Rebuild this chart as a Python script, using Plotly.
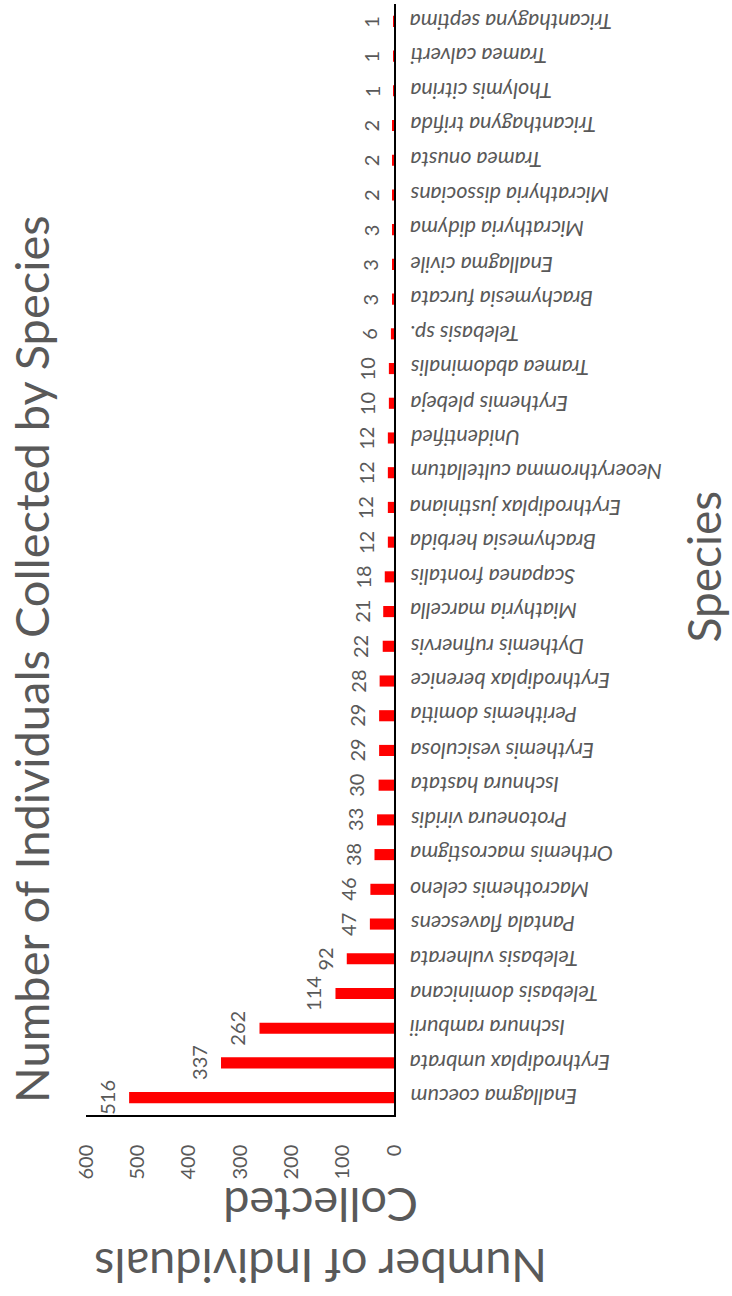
import plotly.graph_objects as go

# Species counts, listed from the most to the least collected
species = [
    "Enallagma coecum", "Erythrodiplax umbrata", "Ischnura ramburii",
    "Telebasis dominicana", "Telebasis vulnerata", "Pantala flavescens",
    "Macrothemis celeno", "Orthemis macrostigma", "Protoneura viridis",
    "Ischnura hastata", "Erythemis vesiculosa", "Perithemis domitia",
    "Erythrodiplax berenice", "Dythemis rufinervis", "Miathyria marcella",
    "Scapanea frontalis", "Brachymesia herbida", "Erythrodiplax justiniana",
    "Neoerythromma cultellatum", "Unidentified", "Erythemis plebeja",
    "Tramea abdominalis", "Telebasis sp.", "Brachymesia furcata",
    "Enallagma civile", "Micrathyria didyma", "Micrathyria dissocians",
    "Tramea onusta", "Tricanthagyna trifida", "Tholymis citrina",
    "Tramea calverti", "Tricanthagyna septima",
]
counts = [
    516, 337, 262, 114, 92, 47, 46, 38, 33, 30, 29, 29, 28, 22, 21, 18,
    12, 12, 12, 12, 10, 10, 6, 3, 3, 3, 2, 2, 2, 1, 1, 1,
]
count_ticks = [0, 100, 200, 300, 400, 500, 600]

chart_title = "Number of Individuals Collected by Species"
value_title = "Number of Individuals<br>Collected"
category_title = "Species"

W, H = 732, 1296
# plot-area edges in pixels
PL, PR, PT, PB = 86, 394, 4, 1115

GREY = "#595959"
FONT = "Lato"


def px_x(px):
    return (px - PL) / (PR - PL)


def px_y(py):
    return (PB - py) / (PB - PT)


fig = go.Figure(
    go.Bar(
        x=counts,
        y=species,
        orientation="h",
        marker=dict(color="#FF0000", line=dict(width=0)),
        width=0.32,
        hoverinfo="x+y",
    )
)

annotations = []

# value labels at the end of each bar, reading upward
for name, val in zip(species, counts):
    annotations.append(dict(
        x=val, y=name, xref="x", yref="y",
        text=str(val), showarrow=False, textangle=-90,
        xanchor="center", yanchor="middle", xshift=-22,
        font=dict(family=FONT, size=20, color=GREY),
    ))

# species names, turned upside down beside the baseline
for name in species:
    annotations.append(dict(
        x=0, y=name, xref="x", yref="y",
        text=f"<i>{name}</i>", showarrow=False, textangle=180,
        xanchor="left", yanchor="middle", xshift=14,
        font=dict(family=FONT, size=21.5, color=GREY),
    ))

# chart title along the left edge
annotations.append(dict(
    x=px_x(31), y=px_y(659), xref="paper", yref="paper",
    text=chart_title, showarrow=False, textangle=-90,
    xanchor="center", yanchor="middle",
    font=dict(family=FONT, size=47, color=GREY),
))

# value-axis title, upside down below the tick labels
annotations.append(dict(
    x=px_x(321), y=px_y(1237), xref="paper", yref="paper",
    text=value_title, showarrow=False, textangle=180,
    xanchor="center", yanchor="middle", align="center",
    font=dict(family=FONT, size=47, color=GREY),
))

# category-axis title on the right
annotations.append(dict(
    x=1, y=px_y(567), xref="paper", yref="paper",
    text=category_title, showarrow=False, textangle=-90,
    xanchor="right", yanchor="middle", xshift=W - PR,
    font=dict(family=FONT, size=46, color=GREY),
))

fig.update_layout(
    width=W, height=H,
    margin=dict(l=PL, r=W - PR, t=PT, b=H - PB, pad=0),
    paper_bgcolor="white", plot_bgcolor="white",
    showlegend=False,
    bargap=0.68,
    annotations=annotations,
    xaxis=dict(
        range=[600, 0],
        tickvals=count_ticks,
        ticktext=[str(t) for t in count_ticks],
        tickangle=-90,
        tickfont=dict(family=FONT, size=20, color=GREY),
        ticks="",
        ticklabelstandoff=20,
        showgrid=False, zeroline=False,
        showline=True, linecolor="black", linewidth=1.5,
        fixedrange=True,
    ),
    yaxis=dict(
        type="category",
        categoryorder="array", categoryarray=species,
        side="right",
        showticklabels=False, ticks="",
        showgrid=False, zeroline=False,
        showline=True, linecolor="black", linewidth=1.5,
        range=[-0.5, len(species) - 0.5],
        fixedrange=True,
    ),
)

fig.write_html("out.html")
